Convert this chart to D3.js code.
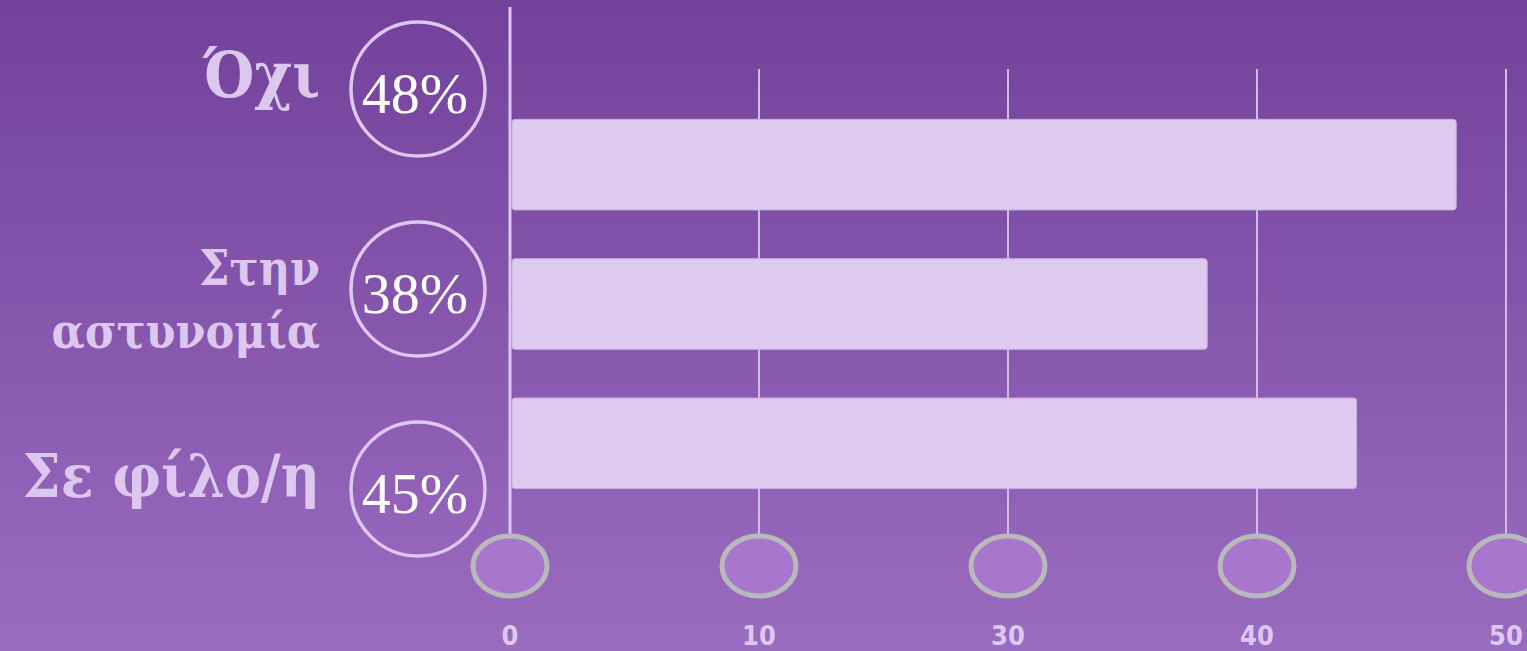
<!DOCTYPE html>
<html>
<head>
<meta charset="utf-8">
<script src="https://cdn.jsdelivr.net/npm/d3@7"></script>
<style>
  html, body { margin: 0; padding: 0; overflow: hidden; }
</style>
</head>
<body>
<div id="visualization"></div>
<script>
let w = 1527;
let h = 651;

// data
let categories = ["Όχι", "Στην αστυνομία", "Σε φίλο/η"];
let labelLines = [["Όχι"], ["Στην", "αστυνομία"], ["Σε φίλο/η"]];
let barValues = [47.5, 35, 42.5];
let percentLabels = ["48%", "38%", "45%"];
let gridValues = [0, 12.5, 25, 37.5, 50];
let tickLabels = ["0", "10", "30", "40", "50"];

let viz = d3.select("#visualization")
  .append("svg")
  .attr("width", w)
  .attr("height", h)
;

// background gradient
let defs = viz.append("defs");
let grad = defs.append("linearGradient")
  .attr("id", "bg")
  .attr("x1", 0).attr("y1", 0).attr("x2", 0).attr("y2", 1);
grad.append("stop").attr("offset", "0%").attr("stop-color", "#73419b");
grad.append("stop").attr("offset", "100%").attr("stop-color", "#9a6cc0");

viz.append("rect")
  .attr("width", w)
  .attr("height", h)
  .attr("fill", "url(#bg)");

// scales
let xScale = d3.scaleLinear().domain([0, 50]).range([510, 1506]);
let yScale = d3.scaleBand().domain(categories).range([95, 513])
  .paddingInner(0.35).paddingOuter(0.175);
let labelScale = d3.scalePoint().domain(categories).range([89, 489]);

// gridlines
viz.selectAll(".grid").data(gridValues.slice(1)).enter()
  .append("line")
  .attr("class", "grid")
  .attr("x1", d => xScale(d))
  .attr("x2", d => xScale(d))
  .attr("y1", 69)
  .attr("y2", 540)
  .attr("stroke", "#d2bce6")
  .attr("stroke-width", 2)
;

// main axis line
viz.append("line")
  .attr("x1", xScale(0))
  .attr("x2", xScale(0))
  .attr("y1", 7)
  .attr("y2", 540)
  .attr("stroke", "#dcc8ee")
  .attr("stroke-width", 3)
;

// bars
viz.selectAll(".bar").data(categories).enter()
  .append("rect")
  .attr("class", "bar")
  .attr("x", xScale(0) + 2)
  .attr("y", d => yScale(d))
  .attr("width", (d, i) => xScale(barValues[i]) - xScale(0) - 2)
  .attr("height", yScale.bandwidth())
  .attr("rx", 3)
  .attr("fill", "#ddcaee")
  .attr("stroke", "#c9b1e0")
  .attr("stroke-width", 1)
;

// ovals at the bottom of the grid
viz.selectAll(".knob").data(gridValues).enter()
  .append("ellipse")
  .attr("class", "knob")
  .attr("cx", d => xScale(d))
  .attr("cy", 566)
  .attr("rx", 37)
  .attr("ry", 30)
  .attr("fill", "#a876cc")
  .attr("stroke", "#b9b9b9")
  .attr("stroke-width", 5)
;

// tick labels
viz.selectAll(".tick-label").data(gridValues).enter()
  .append("text")
  .attr("class", "tick-label")
  .attr("x", d => xScale(d))
  .attr("y", 645)
  .attr("text-anchor", "middle")
  .attr("font-family", "'DejaVu Sans Condensed', 'DejaVu Sans', sans-serif")
  .attr("font-weight", "bold")
  .attr("font-size", 27)
  .attr("fill", "#dcc8f0")
  .text((d, i) => tickLabels[i])
;

// percentage circles
let badges = viz.selectAll(".badge").data(categories).enter()
  .append("g")
  .attr("class", "badge")
  .attr("transform", d => "translate(418," + labelScale(d) + ")");

badges.append("circle")
  .attr("r", 67)
  .attr("fill", "none")
  .attr("stroke", "#dcc8f0")
  .attr("stroke-width", 3.5);

badges.append("text")
  .attr("x", -3)
  .attr("y", 24)
  .attr("text-anchor", "middle")
  .attr("font-family", "'Liberation Serif', serif")
  .attr("font-size", 58)
  .attr("fill", "#ffffff")
  .text((d, i) => percentLabels[i]);

// category labels
let cats = viz.selectAll(".cat").data(categories).enter()
  .append("text")
  .attr("class", "cat")
  .attr("text-anchor", "end")
  .attr("font-family", "'DejaVu Serif Condensed', 'DejaVu Serif', serif")
  .attr("font-weight", "bold")
  .attr("fill", "#dcc8ee")
  .attr("font-size", (d, i) => labelLines[i].length > 1 ? 48 : (i == 0 ? 64 : 60))
  .attr("transform", d => "translate(320," + labelScale(d) + ")");

cats.selectAll("tspan").data((d, i) => labelLines[i].map(t => ({t: t, n: labelLines[i].length}))).enter()
  .append("tspan")
  .attr("x", 0)
  .attr("y", (d, j) => d.n > 1 ? -4 + j * 63 : 8)
  .text(d => d.t)
;
</script>
</body>
</html>
